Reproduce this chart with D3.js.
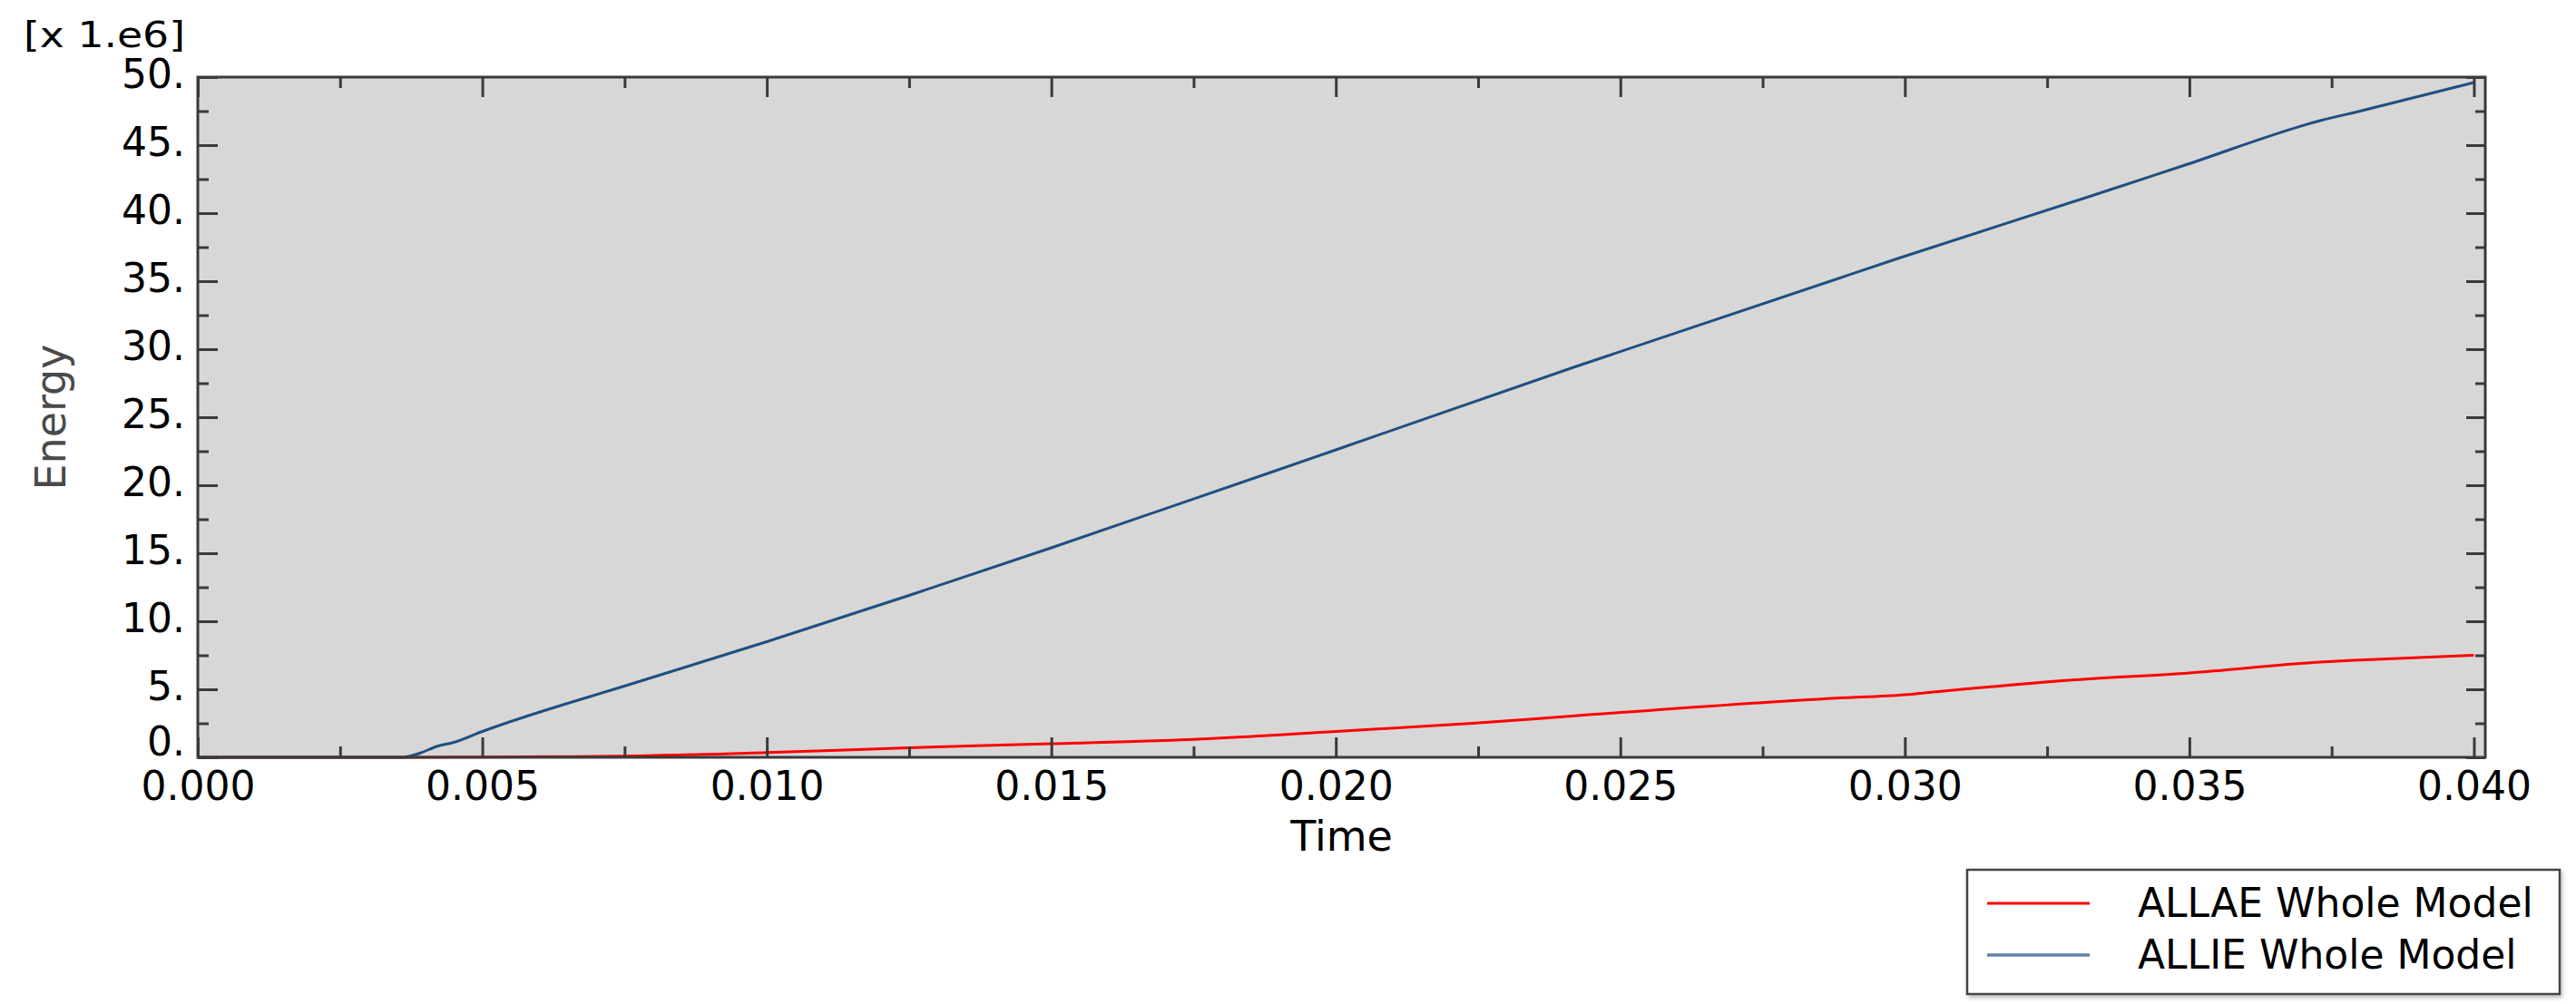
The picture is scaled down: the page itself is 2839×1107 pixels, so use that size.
<!DOCTYPE html>
<html>
<head>
<meta charset="utf-8">
<script src="https://cdn.jsdelivr.net/npm/d3@7"></script>
<style>
  html, body { margin: 0; padding: 0; background: #ffffff; }
  svg { display: block; }
  text { font-family: "DejaVu Sans", Verdana, sans-serif; }
</style>
</head>
<body>
<svg id="chart" width="2839" height="1107"></svg>
<script>
// ---- data (Energy in units of 1e6) ----
const allaeTime  = [0, 0.0036, 0.0050, 0.0065, 0.0077, 0.0100, 0.0125, 0.0150, 0.0174, 0.0200, 0.0224, 0.0242, 0.0288, 0.0300, 0.0305, 0.0330, 0.0350, 0.0373, 0.0380, 0.0400];
const allaeValue = [0, 0.00,   0.02,   0.05,   0.10,   0.35,   0.70,   1.00,   1.30,   1.90,   2.50,   3.05,   4.35,   4.60,   4.80,   5.70,   6.20,   7.00,   7.15,   7.50];

const allieTime  = [0, 0.0036, 0.0039, 0.0042, 0.0045, 0.0050, 0.0077, 0.0100, 0.0125, 0.0150, 0.0200, 0.0242, 0.0299, 0.0333, 0.0349, 0.0373, 0.0380, 0.0400];
const allieValue = [0, 0.00,   0.30,   0.80,   1.10,   1.90,   5.50,   8.50,   11.90,  15.40,  22.60,  28.70,  36.70,  41.30,  43.50,  46.80,  47.50,  49.60];

const seriesNames = ["ALLAE Whole Model", "ALLIE Whole Model"];
const seriesColors = ["#ff0000", "#1f4f7e"];

const xMajorTicks = [0, 0.005, 0.010, 0.015, 0.020, 0.025, 0.030, 0.035, 0.040];
const xMinorTicks = [0.0025, 0.0075, 0.0125, 0.0175, 0.0225, 0.0275, 0.0325, 0.0375];
const yMajorTicks = [0, 5, 10, 15, 20, 25, 30, 35, 40, 45, 50];
const yMinorTicks = [2.5, 7.5, 12.5, 17.5, 22.5, 27.5, 32.5, 37.5, 42.5, 47.5];

const xTitle = "Time";
const yTitle = "Energy";
const multiplier = "[x 1.e6]";

// ---- layout ----
const L = 218, R = 2739, T = 85, B = 835;
const svg = d3.select("#chart");

const x = d3.scaleLinear().domain([0, 0.0402]).range([L, R]);
const y = d3.scaleLinear().domain([0, 50]).range([B, T]);

// plot background
svg.append("rect").attr("x", L).attr("y", T).attr("width", R - L).attr("height", B - T)
  .attr("fill", "#d7d7d7");

// curves
const series = [
  allaeTime.map((t, i) => [t, allaeValue[i]]),
  allieTime.map((t, i) => [t, allieValue[i]])
];
const line = d3.line().x(d => x(d[0])).y(d => y(d[1])).curve(d3.curveMonotoneX);
series.forEach((s, i) => {
  svg.append("path").datum(s).attr("d", line)
    .attr("fill", "none").attr("stroke", seriesColors[i])
    .attr("stroke-width", 3).attr("stroke-linejoin", "round");
});

const axisColor = "#3a3a3a";
function styleAxis(g) {
  g.select(".domain").remove();
  g.selectAll(".tick line").attr("stroke", axisColor).attr("stroke-width", 3);
  g.selectAll(".tick text").attr("fill", "#000").style("font-size", "44px")
    .style("font-family", '"DejaVu Sans", Verdana, sans-serif');
}

// bottom axis (inward ticks)
svg.append("g").attr("transform", `translate(0,${B})`)
  .call(d3.axisBottom(x).tickValues(xMinorTicks).tickSize(-12).tickFormat(""))
  .call(styleAxis);
const xb = svg.append("g").attr("transform", `translate(0,${B})`)
  .call(d3.axisBottom(x).tickValues(xMajorTicks).tickSize(-22).tickPadding(0).tickFormat(d3.format(".3f")))
  .call(styleAxis);
xb.selectAll(".tick text").attr("y", 47).attr("dy", 0);

// top axis
svg.append("g").attr("transform", `translate(0,${T})`)
  .call(d3.axisTop(x).tickValues(xMinorTicks).tickSize(-12).tickFormat(""))
  .call(styleAxis);
svg.append("g").attr("transform", `translate(0,${T})`)
  .call(d3.axisTop(x).tickValues(xMajorTicks).tickSize(-22).tickFormat(""))
  .call(styleAxis);

// left axis
svg.append("g").attr("transform", `translate(${L},0)`)
  .call(d3.axisLeft(y).tickValues(yMinorTicks).tickSize(-12).tickFormat(""))
  .call(styleAxis);
const yl = svg.append("g").attr("transform", `translate(${L},0)`)
  .call(d3.axisLeft(y).tickValues(yMajorTicks).tickSize(-22).tickPadding(0).tickFormat(d => d + "."))
  .call(styleAxis);
yl.selectAll(".tick text").attr("x", -14).attr("dy", "0.32em")
  .attr("transform", d => d === 0 ? "translate(0,-17)" : "translate(0,-3)");

// right axis
svg.append("g").attr("transform", `translate(${R},0)`)
  .call(d3.axisRight(y).tickValues(yMinorTicks).tickSize(-11).tickFormat(""))
  .call(styleAxis);
svg.append("g").attr("transform", `translate(${R},0)`)
  .call(d3.axisRight(y).tickValues(yMajorTicks).tickSize(-21).tickFormat(""))
  .call(styleAxis);

// frame
svg.append("rect").attr("x", L).attr("y", T).attr("width", R - L).attr("height", B - T)
  .attr("fill", "none").attr("stroke", axisColor).attr("stroke-width", 3);

// titles
svg.append("text").attr("x", (L + R) / 2).attr("y", 938).attr("text-anchor", "middle")
  .style("font-size", "46px").attr("fill", "#000").text(xTitle);
svg.append("text").attr("transform", `translate(72,${(T + B) / 2}) rotate(-90)`)
  .attr("text-anchor", "middle").style("font-size", "46px").attr("fill", "#4a4a4a").text(yTitle);

// multiplier
svg.append("text").attr("x", 26).attr("y", 52).style("font-size", "39px").attr("fill", "#000")
  .attr("textLength", 178).attr("lengthAdjust", "spacingAndGlyphs").text(multiplier);

// legend
const lg = svg.append("g");
const defs = svg.append("defs");
const f = defs.append("filter").attr("id", "shadow").attr("x", "-5%").attr("y", "-5%").attr("width", "110%").attr("height", "115%");
f.append("feDropShadow").attr("dx", 2).attr("dy", 3).attr("stdDeviation", 2).attr("flood-color", "#000").attr("flood-opacity", 0.25);
lg.append("rect").attr("x", 2168).attr("y", 959).attr("width", 653).attr("height", 137)
  .attr("fill", "#fff").attr("stroke", "#444").attr("stroke-width", 2.5).attr("filter", "url(#shadow)");
seriesNames.forEach((name, i) => {
  const yy = 996 + i * 57;
  lg.append("line").attr("x1", 2190).attr("x2", 2303).attr("y1", yy).attr("y2", yy)
    .attr("stroke", seriesColors[i]).attr("stroke-width", i === 0 ? 3 : 3.5)
    .attr("stroke-opacity", i === 0 ? 1 : 0.7);
  lg.append("text").attr("x", 2356).attr("y", yy + 15).style("font-size", "44px")
    .attr("fill", "#000").text(name);
});
</script>
</body>
</html>
